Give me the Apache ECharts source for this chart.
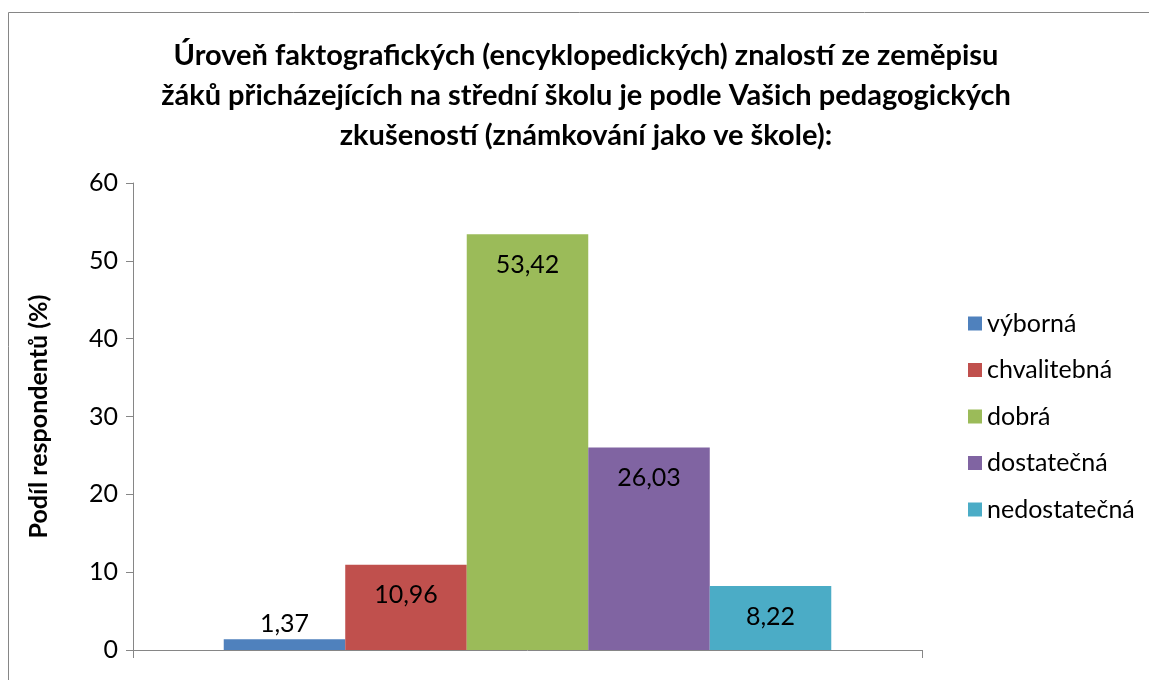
<!DOCTYPE html>
<html>
<head>
<meta charset="utf-8">
<script src="https://cdn.jsdelivr.net/npm/echarts@6/dist/echarts.min.js"></script>
<style>
  html, body { margin: 0; padding: 0; background: #fff; }
  #chart { width: 1149px; height: 680px; }
</style>
</head>
<body>
<div id="chart"></div>
<script>
var grades = ['výborná', 'chvalitebná', 'dobrá', 'dostatečná', 'nedostatečná'];
var shares = [1.37, 10.96, 53.42, 26.03, 8.22];
var colors = ['#4f81bd', '#c0504d', '#9bbb59', '#8064a2', '#4bacc6'];
var yTicks = [0, 10, 20, 30, 40, 50, 60];

var font = 'Lato, "Open Sans", sans-serif';
var mychart = echarts.init(document.getElementById('chart'));

var series = grades.map(function (g, i) {
  var small = shares[i] < 5;
  return {
    name: g,
    type: 'bar',
    data: [shares[i]],
    barGap: '0%',
    barCategoryGap: '23%',
    itemStyle: { color: colors[i] },
    label: {
      show: true,
      position: small ? 'top' : 'insideTop',
      distance: small ? 3 : 18,
      color: '#000',
      fontFamily: font,
      fontSize: 25,
      formatter: function (p) {
        return p.value.toFixed(2).replace('.', ',');
      }
    }
  };
});

mychart.setOption({
  animation: false,
  title: {
    text: 'Úroveň faktografických (encyklopedických) znalostí ze zeměpisu\nžáků přicházejících na střední školu je podle Vašich pedagogických\nzkušeností (známkování jako ve škole):',
    left: 581,
    textAlign: 'center',
    top: 31,
    textStyle: {
      fontFamily: font,
      fontSize: 29,
      fontWeight: 'bold',
      color: '#000',
      lineHeight: 40
    }
  },
  legend: {
    orient: 'vertical',
    left: 963,
    top: 306,
    itemWidth: 14,
    itemHeight: 14,
    itemGap: 21.5,
    icon: 'rect',
    data: grades,
    textStyle: { fontFamily: font, fontSize: 25, lineHeight: 25, color: '#000' }
  },
  grid: { left: 133, right: 227, top: 183, bottom: 30 },
  graphic: [{
    type: 'rect',
    shape: { x: 8.5, y: 12.5, width: 1300, height: 800 },
    style: { fill: 'none', stroke: '#868686', lineWidth: 1 },
    silent: true
  }],
  xAxis: [{
    type: 'category',
    data: [''],
    axisLine: { lineStyle: { color: '#868686' } },
    axisTick: { show: false },
    axisLabel: { show: false }
  }, {
    // only draws the two boundary ticks of the single category
    type: 'value',
    position: 'bottom',
    min: 0,
    max: 1,
    interval: 1,
    axisLine: { show: false },
    axisTick: { show: true, length: 8, lineStyle: { color: '#868686' } },
    axisLabel: { show: false },
    splitLine: { show: false }
  }],
  yAxis: {
    type: 'value',
    min: yTicks[0],
    max: yTicks[yTicks.length - 1],
    interval: 10,
    name: 'Podíl respondentů (%)',
    nameLocation: 'middle',
    nameGap: 82,
    nameTextStyle: { fontFamily: font, fontSize: 25, fontWeight: 'bold', color: '#000' },
    axisLine: { show: true, lineStyle: { color: '#868686' } },
    axisTick: { show: true, length: 7, lineStyle: { color: '#868686' } },
    axisLabel: { fontFamily: font, fontSize: 25, color: '#000', margin: 15 },
    splitLine: { show: false }
  },
  series: series
});
</script>
</body>
</html>
